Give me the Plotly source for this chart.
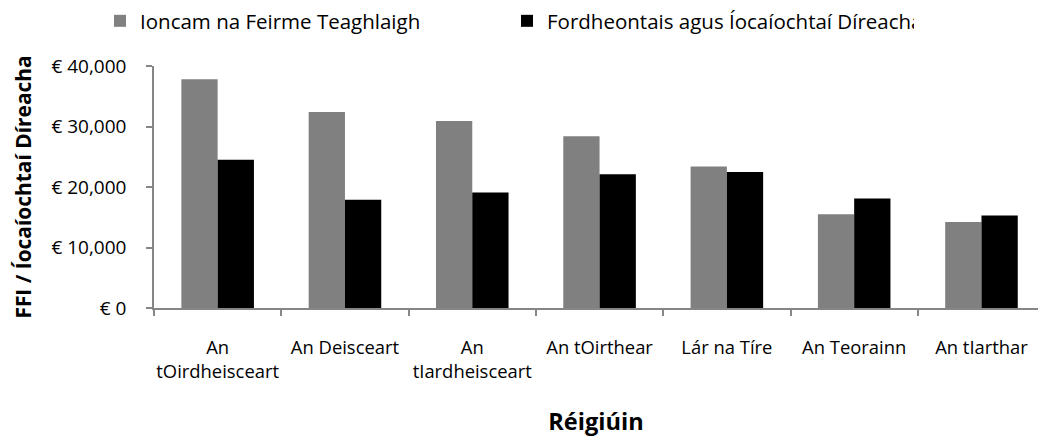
import plotly.graph_objects as go

regions = ["An<br>tOirdheisceart", "An Deisceart", "An<br>tIardheisceart", "An tOirthear",
           "Lár na Tíre", "An Teorainn", "An tIarthar"]
farm_income = [37800, 32400, 30900, 28400, 23400, 15500, 14200]
subsidies = [24500, 17900, 19100, 22100, 22500, 18100, 15300]
series_names = ["Ioncam na Feirme Teaghlaigh", "Fordheontais agus Íocaíochtaí Díreacha"]
y_ticks = [0, 10000, 20000, 30000, 40000]
y_tick_text = ["€ 0", "€ 10,000", "€ 20,000", "€ 30,000", "€ 40,000"]

FONT = "Open Sans, Noto Sans, sans-serif"
AXIS_COL = "#868686"

fig = go.Figure()
fig.add_trace(go.Bar(x=regions, y=farm_income, name=series_names[0],
                     marker=dict(color="#808080", line=dict(width=0))))
fig.add_trace(go.Bar(x=regions, y=subsidies, name=series_names[1],
                     marker=dict(color="#000000", line=dict(width=0))))

fig.update_layout(
    width=1038, height=437,
    margin=dict(l=154, r=0, t=66, b=129, autoexpand=False),
    paper_bgcolor="white", plot_bgcolor="white",
    barmode="group", bargap=0.43, bargroupgap=0,
    font=dict(family=FONT, color="#000000"),
    showlegend=True,
    legend=dict(orientation="h", xref="container", yref="container",
                x=100 / 1038, xanchor="left", y=1 - 21 / 437, yanchor="middle",
                font=dict(size=20.5, family=FONT, color="#000000"),
                entrywidth=362, bgcolor="rgba(0,0,0,0)", borderwidth=0,
                traceorder="normal"),
    xaxis=dict(
        range=[-0.5, 6.444], showline=True, linecolor=AXIS_COL, linewidth=1.5,
        ticks="outside", ticklen=6, tickcolor=AXIS_COL, tickwidth=1.5,
        tickson="boundaries", showgrid=False, zeroline=False, tickangle=0,
        tickfont=dict(size=18.4, family=FONT, color="#000000"),
        ticklabelstandoff=22, automargin=False,
        title=dict(text="<b>Réigiúin</b>", font=dict(size=23.6, family=FONT, color="#000000"),
                   standoff=33),
    ),
    yaxis=dict(
        range=[0, 40000], showline=True, linecolor=AXIS_COL, linewidth=1.5,
        ticks="outside", ticklen=6, tickcolor=AXIS_COL, tickwidth=1.5,
        tickvals=y_ticks, ticktext=y_tick_text, showgrid=False, zeroline=False,
        tickfont=dict(size=19, family=FONT, color="#000000"),
        ticklabelstandoff=16, automargin=False,
        title=dict(text="<b>FFI / Íocaíochtaí Díreacha</b>",
                   font=dict(size=20.9, family=FONT, color="#000000"), standoff=14),
    ),
)

fig.write_html("out.html", config={"displayModeBar": False},
               post_script="document.body.style.margin='0';")
